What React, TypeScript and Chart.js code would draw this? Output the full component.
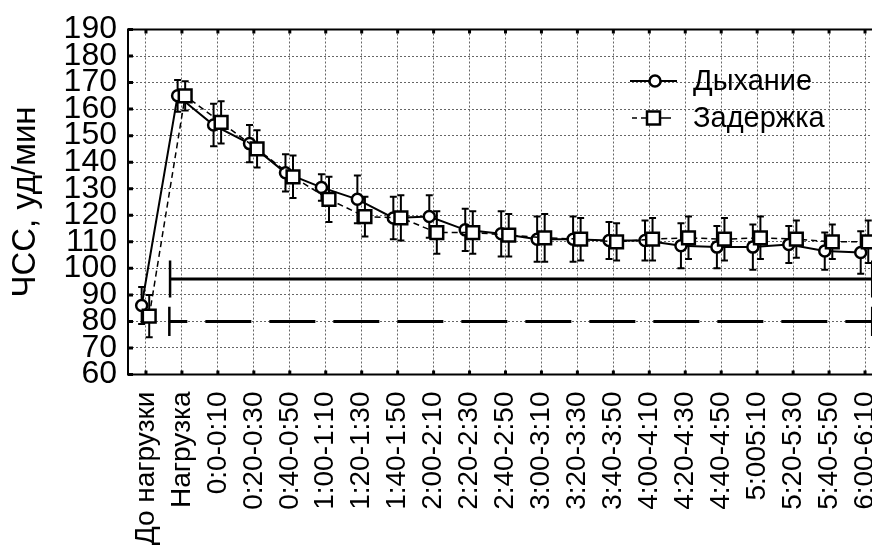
import React, { useEffect, useRef } from 'react';
import { Chart, registerables } from 'chart.js';

Chart.register(...registerables);

const categories = [
  'До нагрузки', 'Нагрузка', '0:0-0:10', '0:20-0:30', '0:40-0:50', '1:00-1:10', '1:20-1:30',
  '1:40-1:50', '2:00-2:10', '2:20-2:30', '2:40-2:50', '3:00-3:10', '3:20-3:30', '3:40-3:50',
  '4:00-4:10', '4:20-4:30', '4:40-4:50', '5:005:10', '5:20-5:30', '5:40-5:50', '6:00-6:10',
];
const seriesNames = ['Дыхание', 'Задержка'];
const breathMean = [86, 165, 154, 147, 136, 130.5, 126, 119, 119.5, 114.5, 113, 111, 111, 110.5, 110.5, 108.5, 108, 108, 109, 106.5, 106];
const breathSd = [7, 6, 8, 7, 7, 5, 9, 8, 8, 8, 8.5, 8.5, 8.5, 7, 7.5, 8.5, 8, 8.5, 7, 7, 8];
const holdMean = [82, 165, 155, 145, 134.5, 126, 119.5, 119, 113.5, 113.5, 112.5, 111.5, 111, 110, 111, 111.5, 111, 111.5, 111, 110, 110];
const holdSd = [8, 5.5, 8, 7, 8, 8.5, 7.5, 8.5, 8, 8, 8, 9, 8, 7, 8, 8, 8, 8, 7, 6.5, 8];
const yTickMin = 60;
const yTickMax = 190;
const yTickStep = 10;
const sigLevels = [96, 80];
const sigFrom = [0.67, 0.65];
const sigTo = [20.2, 20.2];
const sigCapHalf = [7, 5.5];

const FONT = "'Liberation Sans', Arial, sans-serif";
const SHIFTS = [-0.12, 0.09];

const errorBarsPlugin = {
  id: 'errorBars',
  beforeDatasetsDraw(chart: any) {
    const { ctx, chartArea, scales } = chart;
    const xs = scales.x, ys = scales.y;
    const means = [breathMean, holdMean];
    const sds = [breathSd, holdSd];
    ctx.save();
    ctx.beginPath();
    ctx.rect(chartArea.left, chartArea.top, chartArea.right - chartArea.left, chartArea.bottom - chartArea.top);
    ctx.clip();
    ctx.strokeStyle = '#000';
    ctx.lineWidth = 2;
    ctx.setLineDash([]);
    for (let d = 0; d < 2; d++) {
      means[d].forEach((m, i) => {
        const x = xs.getPixelForValue(i + SHIFTS[d]);
        const yt = ys.getPixelForValue(m + sds[d][i]);
        const yb = ys.getPixelForValue(m - sds[d][i]);
        ctx.beginPath();
        ctx.moveTo(x, yt);
        ctx.lineTo(x, yb);
        ctx.moveTo(x - 3.5, yt);
        ctx.lineTo(x + 3.5, yt);
        ctx.moveTo(x - 3.5, yb);
        ctx.lineTo(x + 3.5, yb);
        ctx.stroke();
      });
    }
    // significance lines
    ctx.lineWidth = 3;
    sigLevels.forEach((lv, k) => {
      const x1 = xs.getPixelForValue(sigFrom[k]);
      const x2 = xs.getPixelForValue(sigTo[k]);
      const y = ys.getPixelForValue(lv);
      const yc1 = ys.getPixelForValue(lv + sigCapHalf[k]);
      const yc2 = ys.getPixelForValue(lv - sigCapHalf[k]);
      ctx.beginPath();
      if (k === 1) {
        ctx.setLineDash([46, 18]);
        ctx.lineDashOffset = 28;
      } else {
        ctx.setLineDash([]);
      }
      ctx.moveTo(x1, y);
      ctx.lineTo(x2, y);
      ctx.stroke();
      ctx.setLineDash([]);
      ctx.lineWidth = 2.5;
      ctx.beginPath();
      ctx.moveTo(x1, yc1);
      ctx.lineTo(x1, yc2);
      ctx.moveTo(x2, yc1);
      ctx.lineTo(x2, yc2);
      ctx.stroke();
      ctx.lineWidth = 3;
    });
    ctx.restore();
  },
};

const framePlugin = {
  id: 'frame',
  afterDraw(chart: any) {
    const { ctx, chartArea, scales } = chart;
    const { left, right, top, bottom } = chartArea;
    ctx.save();
    ctx.strokeStyle = '#000';
    ctx.setLineDash([]);
    ctx.lineWidth = 2;
    ctx.strokeRect(left, top, right - left, bottom - top);
    ctx.lineWidth = 3;
    ctx.beginPath();
    categories.forEach((_, i) => {
      const x = scales.x.getPixelForValue(i);
      ctx.moveTo(x, top);
      ctx.lineTo(x, top + 4);
      ctx.moveTo(x, bottom);
      ctx.lineTo(x, bottom - 4);
    });
    for (let v = yTickMin; v <= yTickMax; v += yTickStep) {
      const y = scales.y.getPixelForValue(v);
      ctx.moveTo(left, y);
      ctx.lineTo(left + 5, y);
    }
    ctx.stroke();
    ctx.restore();
  },
};

const legendPlugin = {
  id: 'customLegend',
  afterDatasetsDraw(chart: any) {
    const { ctx } = chart;
    ctx.save();
    ctx.fillStyle = '#000';
    ctx.strokeStyle = '#000';
    ctx.font = `29px ${FONT}`;
    ctx.textBaseline = 'middle';
    const rows = [81, 118];
    ctx.lineWidth = 2;
    ctx.setLineDash([]);
    ctx.beginPath();
    ctx.moveTo(630, rows[0]);
    ctx.lineTo(677, rows[0]);
    ctx.stroke();
    ctx.beginPath();
    ctx.arc(655, rows[0], 5.5, 0, Math.PI * 2);
    ctx.fillStyle = '#fff';
    ctx.fill();
    ctx.lineWidth = 2.5;
    ctx.stroke();
    ctx.lineWidth = 1.5;
    ctx.beginPath();
    ctx.moveTo(632, rows[1]);
    ctx.lineTo(637, rows[1]);
    ctx.moveTo(641, rows[1]);
    ctx.lineTo(646, rows[1]);
    ctx.moveTo(661, rows[1]);
    ctx.lineTo(671, rows[1]);
    ctx.stroke();
    ctx.lineWidth = 2.5;
    ctx.fillStyle = '#fff';
    ctx.fillRect(647, rows[1] - 6.5, 13, 13);
    ctx.strokeRect(647, rows[1] - 6.5, 13, 13);
    ctx.fillStyle = '#000';
    ctx.fillText(seriesNames[0], 693, rows[0] + 1);
    ctx.fillText(seriesNames[1], 693, rows[1] + 1);
    ctx.restore();
  },
};

export default function App() {
  const ref = useRef<HTMLCanvasElement | null>(null);
  useEffect(() => {
    if (!ref.current) return;
    const chart = new Chart(ref.current, {
      type: 'line',
      data: {
        datasets: [
          {
            label: seriesNames[0],
            data: breathMean.map((v, i) => ({ x: i + SHIFTS[0], y: v })),
            borderColor: '#000',
            borderWidth: 2,
            pointStyle: 'circle',
            pointRadius: 5.5,
            pointBorderWidth: 2.5,
            pointBackgroundColor: '#fff',
            pointBorderColor: '#000',
            tension: 0,
            order: 1,
          },
          {
            label: seriesNames[1],
            data: holdMean.map((v, i) => ({ x: i + SHIFTS[1], y: v })),
            borderColor: '#000',
            borderWidth: 1.5,
            borderDash: [6, 4],
            pointStyle: 'rect',
            pointRadius: 9,
            pointBorderWidth: 2.5,
            pointBackgroundColor: '#fff',
            pointBorderColor: '#000',
            tension: 0,
            order: 0,
          },
        ],
      },
      options: {
        animation: false,
        responsive: false,
        maintainAspectRatio: false,
        layout: { padding: { top: 29.5, right: 17, left: 0, bottom: 0 } },
        plugins: { legend: { display: false }, tooltip: { enabled: false } },
        scales: {
          x: {
            type: 'linear',
            min: -0.5,
            max: categories.length - 0.5,
            afterBuildTicks: (scale: any) => {
              scale.ticks = categories.map((_, i) => ({ value: i }));
            },
            afterFit: (scale: any) => {
              scale.height = 175.5;
              scale.paddingLeft = 0;
              scale.paddingRight = 0;
            },
            ticks: {
              autoSkip: false,
              minRotation: 90,
              maxRotation: 90,
              padding: 17,
              color: '#000',
              font: { family: FONT, size: 28 },
              callback: (v: any) => categories[v] ?? '',
            },
            grid: { color: '#666', lineWidth: 1, drawTicks: false },
            border: { display: false, dash: [2, 2] },
          },
          y: {
            min: yTickMin,
            max: yTickMax,
            afterFit: (scale: any) => {
              scale.width = 128;
              scale.paddingTop = 0;
              scale.paddingBottom = 0;
            },
            ticks: {
              stepSize: yTickStep,
              autoSkip: false,
              padding: 11,
              color: '#000',
              font: { family: FONT, size: 32 },
            },
            title: {
              display: true,
              text: 'ЧСС, уд/мин',
              color: '#000',
              font: { family: FONT, size: 33, lineHeight: 1 },
              padding: { top: 9, bottom: 0 },
            },
            grid: { color: '#666', lineWidth: 1, drawTicks: false },
            border: { display: false, dash: [2, 2] },
          },
        },
      },
      plugins: [errorBarsPlugin, legendPlugin, framePlugin],
    });
    return () => chart.destroy();
  }, []);
  return (
    <div style={{ position: 'fixed', left: 0, top: 0, width: 872, height: 550, overflow: 'hidden', background: '#fff' }}>
      <canvas ref={ref} width={900} height={550} style={{ display: 'block', width: 900, height: 550 }} />
    </div>
  );
}
